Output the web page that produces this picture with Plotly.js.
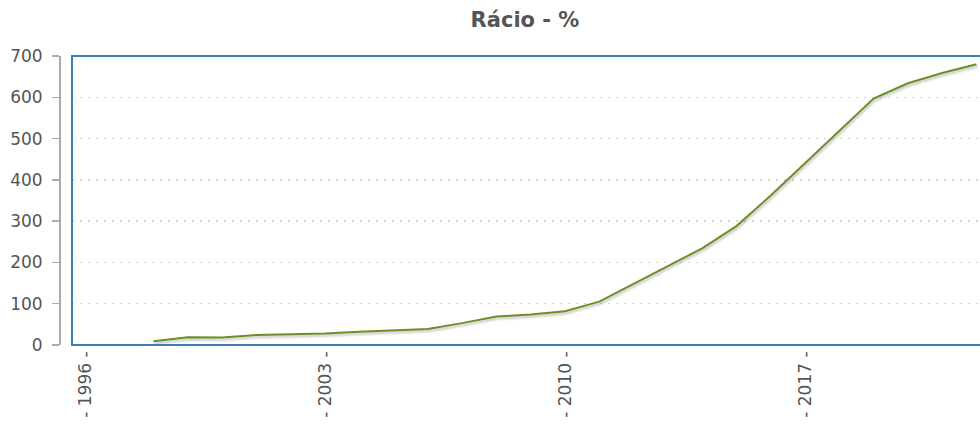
<!DOCTYPE html>
<html>
<head>
<meta charset="utf-8">
<script src="https://cdn.plot.ly/plotly-3.0.1.min.js"></script>
<style>
html,body{margin:0;padding:0;overflow:hidden;background:#fff;}
#chart{width:1000px;height:435px;}
#chart .scatterlayer .js-line{filter: drop-shadow(1px 2px 1.2px rgba(0,0,0,0.25));}
</style>
</head>
<body>
<div id="chart"></div>
<script>
const years = [1998,1999,2000,2001,2002,2003,2004,2005,2006,2007,2008,2009,2010,2011,2012,2013,2014,2015,2016,2017,2018,2019,2020,2021,2022];
const values = [9,19,18,24,26,28,32,35,39,53,69,74,82,105,148,191,234,288,362,440,518,597,634,659,680];
const tickYears = [1996,2003,2010,2017];
const tickLabels = ["- 1996 -","- 2003 -","- 2010 -","- 2017 -"];
const titleText = "Rácio - %";

const W = 1000, H = 435;
const ml = 60, mr = 10, mt = 56, mb = 90;
const plotW = W - ml - mr;
const domStart = 12 / plotW;
const pxPerYear = 240 / 7;
const xStart = 1996 - 13 / pxPerYear;
const xEnd = xStart + (plotW - 12) / pxPerYear;

const trace = {
  x: years, y: values, type: 'scatter', mode: 'lines',
  line: {color: '#6b8f24', width: 2},
  hoverinfo: 'x+y', showlegend: false
};

const layout = {
  width: W, height: H,
  margin: {l: ml, r: mr, t: mt, b: mb, pad: 0},
  paper_bgcolor: '#fff', plot_bgcolor: '#fff',
  font: {family: 'DejaVu Sans, Verdana, sans-serif', color: '#555', size: 17},
  title: {text: '<b>' + titleText + '</b>', x: 0.5, xref: 'paper', y: 0.955, yref: 'container', yanchor: 'middle',
          font: {size: 21, color: '#555', family: 'DejaVu Sans, Verdana, sans-serif'}},
  xaxis: {
    domain: [domStart, 1], range: [xStart, xEnd],
    tickvals: tickYears, ticktext: tickLabels, tickangle: -90,
    ticks: '', showgrid: false, zeroline: false, showline: false,
    ticklabelstandoff: 2,
    tickfont: {size: 17, color: '#555'}, fixedrange: true
  },
  yaxis: {
    range: [0, 700], anchor: 'free', position: 0,
    tickvals: [0,100,200,300,400,500,600,700],
    ticks: 'outside', ticklen: 7, tickcolor: '#aaa', tickwidth: 1.5,
    showline: true, linecolor: '#aaa', linewidth: 2,
    ticklabelstandoff: 6,
    showgrid: true, gridcolor: '#d4d4d4', griddash: '2px,6px', gridwidth: 1.5,
    zeroline: false, tickfont: {size: 17, color: '#555'}, fixedrange: true
  },
  shapes: [{
    type: 'rect', xref: 'x domain', yref: 'y domain', x0: 0, x1: 1, y0: 0, y1: 1,
    line: {color: '#3a7db5', width: 2}, layer: 'above'
  }]
};

Plotly.newPlot('chart', [trace], layout, {displayModeBar: false, staticPlot: true});
</script>
</body>
</html>
